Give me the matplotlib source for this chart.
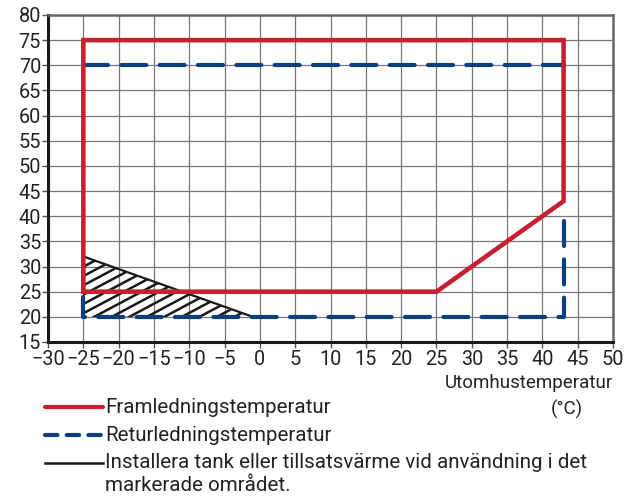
import numpy as np
import matplotlib.pyplot as plt
from matplotlib.lines import Line2D
from matplotlib.patches import Polygon

plt.rcParams['font.family'] = ['Roboto', 'DejaVu Sans']

# data
x_ticks = list(range(-30, 51, 5))
y_ticks = list(range(15, 81, 5))

fram_x = [-25, -25, 43, 43, 25, -25]
fram_y = [25, 75, 75, 43, 25, 25]

# returledning: visible parts only (rest lies under the red line)
retur_top_x = [-25, 43]
retur_top_y = [70, 70]
retur_bot_x = [43, 43, -25, -25]
retur_bot_y = [39, 20, 20, 24]

tank_x = [-25, -1]
tank_y = [32, 20]

red = '#c8202f'
blue = '#0d3f7e'
dark = '#1a1a1a'

fig = plt.figure(figsize=(6.27, 4.98), dpi=100)
ax = fig.add_axes([0.0766, 0.3133, 0.9011, 0.6566])

ax.set_xlim(-30, 50)
ax.set_ylim(15, 80)
ax.set_xticks(x_ticks)
ax.set_yticks(y_ticks)
ax.grid(True, color='#777777', lw=0.9)
ax.set_axisbelow(True)

for s in ['left', 'bottom']:
    ax.spines[s].set_color(dark)
    ax.spines[s].set_linewidth(2.2)
for s in ['top', 'right']:
    ax.spines[s].set_color('#666666')
    ax.spines[s].set_linewidth(1.8)

ax.tick_params(axis='both', colors='#555555', labelcolor='#222222',
               labelsize=14.3, length=4, width=1)
ax.tick_params(axis='x', pad=2)
ax.tick_params(axis='y', pad=1)

# hatched area
tri = Polygon([[tank_x[0], tank_y[0]], [tank_x[0], tank_y[1]],
               [tank_x[1], tank_y[1]]], closed=True, facecolor='none',
              edgecolor='none', transform=ax.transData)
ax.add_patch(tri)
slope = 0.745
for off in np.arange(-40, 30, 1.85):
    xs = np.array([-26, 0])
    ln, = ax.plot(xs, tank_y[1] + off + slope * (xs + 25), color=dark,
                  lw=1.8, solid_capstyle='butt')
    ln.set_clip_path(tri)
ax.plot(tank_x, tank_y, color=dark, lw=1.6)

ax.plot(retur_top_x, retur_top_y, color=blue, lw=3, dashes=(6, 3.2),
        dash_capstyle='round')
ax.plot(retur_bot_x, retur_bot_y, color=blue, lw=3, dashes=(6, 3.2),
        dash_capstyle='round')
ax.plot(fram_x, fram_y, color=red, lw=3.3, solid_joinstyle='miter')

fig.text(0.977, 0.231, 'Utomhustemperatur', ha='right', va='center',
         fontsize=13.5, color='#222222')
fig.text(0.93, 0.177, '(°C)', ha='right', va='center',
         fontsize=13.5, color='#222222')

# legend
lx0, lx1 = 0.072, 0.164
rows = [0.182, 0.126, 0.071]
fig.add_artist(Line2D([lx0, lx1], [rows[0]] * 2, color=red, lw=3,
                      solid_capstyle='round'))
fig.add_artist(Line2D([lx0, lx1], [rows[1]] * 2, color=blue, lw=3,
                      dashes=(3, 2.2), dash_capstyle='round'))
fig.add_artist(Line2D([lx0, lx1], [rows[2]] * 2, color=dark, lw=1.8))
fs = 14.8
fig.text(0.168, rows[0], 'Framledningstemperatur', va='center',
         fontsize=fs, color='#222222')
fig.text(0.168, rows[1], 'Returledningstemperatur', va='center',
         fontsize=fs, color='#222222')
fig.text(0.168, rows[2],
         'Installera tank eller tillsatsvärme vid användning i det',
         va='center', fontsize=fs, color='#222222')
fig.text(0.168, 0.025, 'markerade området.', va='center',
         fontsize=fs, color='#222222')

fig.savefig('out.png', dpi=100)
